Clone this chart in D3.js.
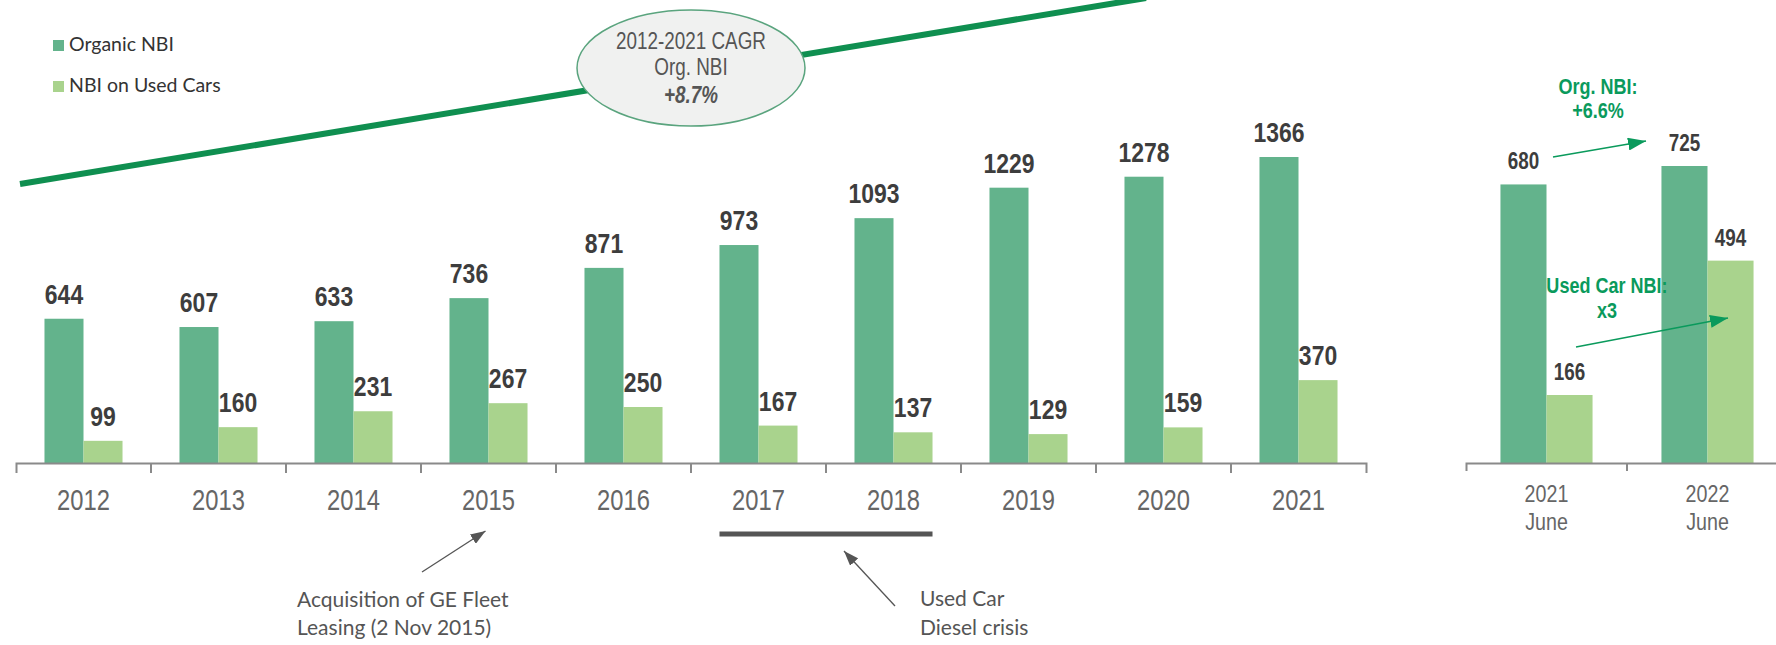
<!DOCTYPE html>
<html lang="en">
<head>
<meta charset="utf-8">
<title>Organic NBI and NBI on Used Cars</title>
<script src="https://d3js.org/d3.v7.min.js"></script>
<style>
  body{margin:0;background:#fff;}
  .narrow{font-family:"Liberation Sans",Arial,sans-serif;}
  .note{font-family:Lato,"Open Sans",sans-serif;fill:#555;}
</style>
</head>
<body>
<div id="chart"></div>
<script>
// yearly values
var years = ["2012","2013","2014","2015","2016","2017","2018","2019","2020","2021"]
var organic = [644,607,633,736,871,973,1093,1229,1278,1366]
var usedCars = [99,160,231,267,250,167,137,129,159,370]
// half-year comparison
var halves = ["2021","2022"]
var halfSub = "June"
var organicH1 = [680,725]
var usedH1 = [166,494]

var W = 1776, H = 645
var base = 463
var cOrg = "#63b38c", cUsed = "#a9d38d", cText = "#3d3d3d", cGreen = "#0a9a5c"

var svg = d3.select("#chart").append("svg").attr("width",W).attr("height",H)

var defs = svg.append("defs")
function marker(id,color,len,wid){
  defs.append("marker").attr("id",id)
    .attr("viewBox","0 0 "+len+" "+wid).attr("refX",len).attr("refY",wid/2)
    .attr("markerWidth",len).attr("markerHeight",wid).attr("markerUnits","userSpaceOnUse")
    .attr("orient","auto")
    .append("path").attr("d","M0,0L"+len+","+(wid/2)+"L0,"+wid+"Z").attr("fill",color)
}
marker("ag","#555",15,11)
marker("gr",cGreen,18,13)

// no narrow font installed: squeeze Liberation Sans like Arial Narrow
function ntext(parent,x,y,lines,size,color,bold,gap){
  var t = parent.append("text").attr("class","narrow")
    .attr("transform","translate("+x+","+y+") scale(0.82,1)")
    .attr("text-anchor","middle").attr("font-size",size).attr("fill",color)
    .attr("font-weight",bold ? "bold" : null)
  ;[].concat(lines).forEach(function(l,i){
    t.append("tspan").attr("x",0).attr("y",i*(gap||0)).text(l)
  })
  return t
}

// trend line + CAGR bubble
svg.append("line").attr("x1",20).attr("y1",184).attr("x2",1146).attr("y2",-2)
  .attr("stroke","#0f8f50").attr("stroke-width",6)
svg.append("ellipse").attr("cx",691).attr("cy",68).attr("rx",114).attr("ry",58)
  .attr("fill","#f0f1f0").attr("stroke","#5aa47e").attr("stroke-width",1.5)
ntext(svg,691,49,["2012-2021  CAGR","Org. NBI"],23,"#555",false,26)
ntext(svg,691,103,"+8.7%",23,"#555",true).attr("font-style","italic")

// legend
var legend = [["Organic NBI",cOrg],["NBI on Used Cars",cUsed]]
legend.forEach(function(d,i){
  var g = svg.append("g").attr("transform","translate(53,"+(40+i*41)+")")
  g.append("rect").attr("width",11).attr("height",11).attr("fill",d[1])
  g.append("text").attr("x",16).attr("y",11).attr("font-family","Lato,'Open Sans',sans-serif")
    .attr("font-size",19.5).attr("fill","#333").text(d[0])
})

function drawPanel(xs,ys,cats,org,used,bw,labSize){
  var g = svg.append("g")
  cats.forEach(function(c,i){
    var cx = xs(c)+xs.bandwidth()/2
    g.append("rect").attr("x",cx-bw).attr("y",ys(org[i])).attr("width",bw).attr("height",base-ys(org[i])).attr("fill",cOrg)
    g.append("rect").attr("x",cx).attr("y",ys(used[i])).attr("width",bw).attr("height",base-ys(used[i])).attr("fill",cUsed)
    ntext(g,cx-bw/2,ys(org[i])-15,String(org[i]),labSize,cText,true)
    ntext(g,cx+bw/2,ys(used[i])-15,String(used[i]),labSize,cText,true)
  })
}

// ---- main panel
var x = d3.scaleBand().domain(years).range([16,1366])
var y = d3.scaleLinear().domain([0,1366]).range([base,157])
var bw = x.bandwidth()*0.289
drawPanel(x,y,years,organic,usedCars,bw,28)

var ax = svg.append("g").attr("transform","translate(0,"+base+")")
  .call(d3.axisBottom(x).tickSizeInner(0).tickSizeOuter(10).tickFormat(""))
ax.select(".domain").attr("stroke","#8a8a8a").attr("stroke-width",2)
years.slice(1).forEach(function(c){
  ax.append("line").attr("x1",x(c)).attr("x2",x(c)).attr("y1",0).attr("y2",10).attr("stroke","#8a8a8a").attr("stroke-width",2)
})
years.forEach(function(c){
  ntext(svg,x(c)+x.bandwidth()/2,510,c,29,"#666",false)
})

// ---- half-year panel
var x2 = d3.scaleBand().domain(halves).range([1466,1788])
var y2 = d3.scaleLinear().domain([0,725]).range([base,166])
drawPanel(x2,y2,halves,organicH1,usedH1,x2.bandwidth()*0.286,23)

var ax2 = svg.append("g").attr("transform","translate(0,"+base+")")
  .call(d3.axisBottom(x2).tickSizeInner(0).tickSizeOuter(8).tickFormat(""))
ax2.select(".domain").attr("stroke","#8a8a8a").attr("stroke-width",2)
ax2.append("line").attr("x1",x2("2022")).attr("x2",x2("2022")).attr("y1",0).attr("y2",8).attr("stroke","#8a8a8a").attr("stroke-width",2)
halves.forEach(function(c){
  ntext(svg,x2(c)+x2.bandwidth()/2,502,[c,halfSub],24,"#666",false,28)
})

// green growth notes
ntext(svg,1598,94,["Org. NBI:","+6.6%"],22,cGreen,true,24)
ntext(svg,1607,293,["Used Car NBI:","x3"],22,cGreen,true,25)
svg.append("line").attr("x1",1553).attr("y1",157).attr("x2",1646).attr("y2",141)
  .attr("stroke",cGreen).attr("stroke-width",1.5).attr("marker-end","url(#gr)")
svg.append("line").attr("x1",1576).attr("y1",347).attr("x2",1728).attr("y2",318)
  .attr("stroke",cGreen).attr("stroke-width",1.5).attr("marker-end","url(#gr)")

// ---- bottom notes
var c15 = x("2015")+x.bandwidth()/2
svg.append("line").attr("x1",422).attr("y1",572).attr("x2",c15-3).attr("y2",531)
  .attr("stroke","#555").attr("stroke-width",1.3).attr("marker-end","url(#ag)")
var n1 = svg.append("text").attr("class","note").attr("font-size",21)
n1.append("tspan").attr("x",297).attr("y",607).text("Acquisition of GE Fleet")
n1.append("tspan").attr("x",297).attr("y",635).text("Leasing (2 Nov 2015)")

var c17 = x("2017")+x.bandwidth()/2, c18 = x("2018")+x.bandwidth()/2
svg.append("line").attr("x1",c17-bw).attr("x2",c18+bw).attr("y1",534).attr("y2",534)
  .attr("stroke","#555").attr("stroke-width",5)
svg.append("line").attr("x1",895).attr("y1",606).attr("x2",844).attr("y2",551)
  .attr("stroke","#555").attr("stroke-width",1.3).attr("marker-end","url(#ag)")
var n2 = svg.append("text").attr("class","note").attr("font-size",21)
n2.append("tspan").attr("x",920).attr("y",606).text("Used Car")
n2.append("tspan").attr("x",920).attr("y",635).text("Diesel crisis")
</script>
</body>
</html>
